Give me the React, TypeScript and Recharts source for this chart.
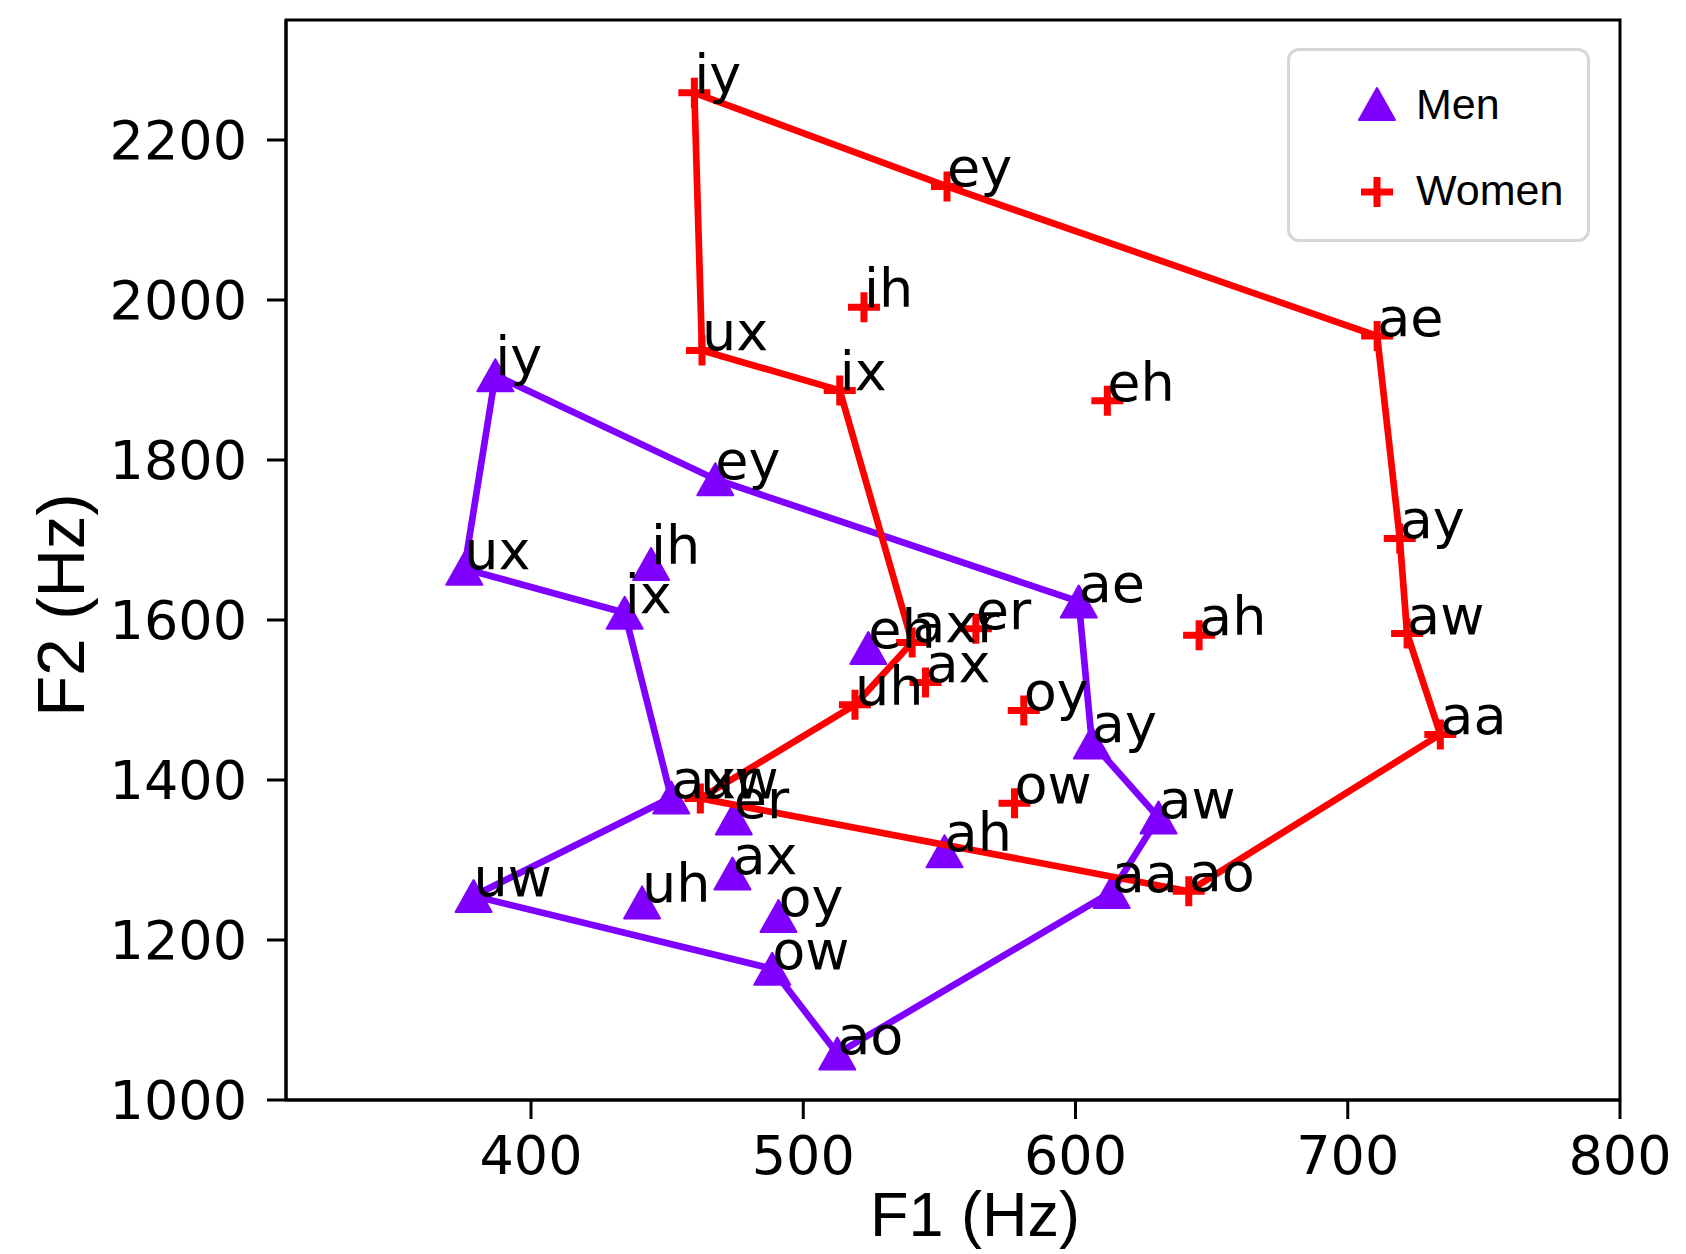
import React from 'react';
import { ScatterChart, Scatter, XAxis, YAxis, ReferenceArea, Legend, Label } from 'recharts';

const F1_TICKS = [400, 500, 600, 700, 800];
const F2_TICKS = [1000, 1200, 1400, 1600, 1800, 2000, 2200];
const F1_DOMAIN = [310, 800];
const F2_DOMAIN = [1000, 2350];

const menLabels = ['iy', 'ey', 'ae', 'ay', 'aw', 'aa', 'ao', 'ow', 'uw', 'axr', 'ix', 'ux', 'ih', 'eh', 'er', 'ax', 'uh', 'oy', 'ah'];
const menF1 = [386.9, 467.7, 601.2, 606.0, 630.5, 613.3, 512.5, 488.6, 378.9, 451.5, 434.4, 375.5, 444.1, 523.9, 474.5, 474.0, 440.8, 490.9, 551.9];
const menF2 = [1906, 1776, 1623, 1447, 1353, 1260, 1058, 1164, 1255, 1378, 1609, 1664, 1670, 1565, 1352, 1283, 1247, 1230, 1311];

const womenLabels = ['iy', 'ey', 'ae', 'ay', 'aw', 'aa', 'ao', 'uw', 'uh', 'axr', 'ix', 'ux', 'ih', 'eh', 'ah', 'er', 'ax', 'oy', 'ow'];
const womenF1 = [460.0, 552.8, 710.8, 719.1, 721.8, 734.0, 641.6, 462.2, 519.0, 540.0, 513.4, 462.8, 522.3, 611.7, 645.4, 563.4, 544.9, 581.0, 577.6];
const womenF2 = [2259, 2142, 1955, 1702, 1583, 1457, 1261, 1377, 1494, 1572, 1887, 1937, 1991, 1874, 1581, 1589, 1522, 1487, 1371];

const menLoopOrder = ['iy', 'ey', 'ae', 'ay', 'aw', 'aa', 'ao', 'ow', 'uw', 'axr', 'ix', 'ux', 'iy'];
const womenLoopOrder = ['iy', 'ey', 'ae', 'ay', 'aw', 'aa', 'ao', 'uw', 'uh', 'axr', 'ix', 'ux', 'iy'];

const legendNames = ['Men', 'Women'];

const MEN_COLOR = '#7f00ff';
const WOMEN_COLOR = '#ff0000';

type Pt = { label: string; x: number; y: number };

const build = (labels: string[], f1: number[], f2: number[]): Pt[] =>
  labels.map((l, i) => ({ label: l, x: f1[i], y: f2[i] }));

const menPoints = build(menLabels, menF1, menF2);
const womenPoints = build(womenLabels, womenF1, womenF2);
const loop = (pts: Pt[], order: string[]) => order.map((l) => pts.find((p) => p.label === l) as Pt);
const menLoop = loop(menPoints, menLoopOrder);
const womenLoop = loop(womenPoints, womenLoopOrder);
const allPoints = [...menPoints, ...womenPoints];

const Empty = () => <g />;

const Triangle = (props: any) => {
  const { cx, cy } = props;
  if (cx == null || cy == null) return <g />;
  return (
    <path
      d={`M${cx},${cy - 16}L${cx + 18},${cy + 16}L${cx - 18},${cy + 16}Z`}
      fill={MEN_COLOR}
      stroke={MEN_COLOR}
      strokeWidth={2}
      strokeLinejoin="round"
    />
  );
};

const Plus = (props: any) => {
  const { cx, cy } = props;
  if (cx == null || cy == null) return <g />;
  return (
    <path
      d={`M${cx - 16},${cy}L${cx + 16},${cy}M${cx},${cy - 15}L${cx},${cy + 15}`}
      stroke={WOMEN_COLOR}
      strokeWidth={7}
      fill="none"
    />
  );
};

const PointLabel = (props: any) => {
  const { cx, cy, payload } = props;
  if (cx == null || cy == null) return <g />;
  return (
    <text x={cx} y={cy} fontFamily="DejaVu Sans" fontSize={54} fill="#000">
      {payload.label}
    </text>
  );
};

const LegendBox = () => (
  <div
    style={{
      boxSizing: 'border-box',
      width: 303,
      height: 194,
      border: '3px solid #d6d6d6',
      borderRadius: 12,
      background: '#fff',
      position: 'relative',
      fontFamily: '"Liberation Sans", Arial, sans-serif',
      fontSize: 43,
      color: '#000',
    }}
  >
    {legendNames.map((name, i) => (
      <div
        key={name}
        style={{ position: 'absolute', left: 0, top: i === 0 ? 26 : 112, height: 54, display: 'flex', alignItems: 'center' }}
      >
        <svg width={120} height={54} style={{ display: 'block' }}>
          {i === 0 ? (
            <path d="M87,11L105,43L69,43Z" fill={MEN_COLOR} stroke={MEN_COLOR} strokeWidth={2} strokeLinejoin="round" />
          ) : (
            <path d="M71,29L103,29M87,14L87,44" stroke={WOMEN_COLOR} strokeWidth={7} fill="none" />
          )}
        </svg>
        <span style={{ marginLeft: 6, lineHeight: '54px' }}>{name}</span>
      </div>
    ))}
  </div>
);

const XLabel = (props: any) => {
  const vb = props.viewBox || {};
  return (
    <text
      x={vb.x + vb.width / 2 + 22}
      y={1236}
      textAnchor="middle"
      fontFamily='"Liberation Sans", Arial, sans-serif'
      fontSize={63}
      fill="#000"
    >
      F1 (Hz)
    </text>
  );
};

const YLabel = () => {
  const cx = 60;
  const cy = 605;
  return (
    <text
      x={cx}
      y={cy}
      transform={`rotate(-90 ${cx} ${cy})`}
      textAnchor="middle"
      dominantBaseline="central"
      fontFamily='"Liberation Sans", Arial, sans-serif'
      fontSize={67}
      fill="#000"
    >
      F2 (Hz)
    </text>
  );
};

const tickStyle = { fontSize: 54, fontFamily: 'DejaVu Sans', fill: '#000' };

export default function App() {
  return (
    <div style={{ position: 'absolute', left: 0, top: 0, width: 1686, height: 1254, background: '#fff' }}>
      <ScatterChart width={1686} height={1254} margin={{ top: 20, right: 66, bottom: 0, left: 0 }}>
        <XAxis
          type="number"
          dataKey="x"
          domain={F1_DOMAIN}
          ticks={F1_TICKS}
          allowDataOverflow
          height={154}
          tick={tickStyle}
          tickSize={19}
          tickMargin={17}
          axisLine={{ stroke: '#000', strokeWidth: 3 }}
          tickLine={{ stroke: '#000', strokeWidth: 3 }}
        >
          <Label content={<XLabel />} />
        </XAxis>
        <YAxis
          type="number"
          dataKey="y"
          domain={F2_DOMAIN}
          ticks={F2_TICKS}
          allowDataOverflow
          width={286}
          tick={tickStyle}
          tickSize={19}
          tickMargin={20}
          axisLine={{ stroke: '#000', strokeWidth: 3 }}
          tickLine={{ stroke: '#000', strokeWidth: 3 }}
        >
          <Label content={<YLabel />} />
        </YAxis>
        <ReferenceArea
          x1={F1_DOMAIN[0]}
          x2={F1_DOMAIN[1]}
          y1={F2_DOMAIN[0]}
          y2={F2_DOMAIN[1]}
          fill="none"
          fillOpacity={0}
          stroke="#000"
          strokeWidth={3}
          ifOverflow="visible"
        />
        <Scatter
          name="men-line"
          data={menLoop}
          line={{ stroke: MEN_COLOR, strokeWidth: 6.7 }}
          shape={Empty}
          legendType="none"
          isAnimationActive={false}
        />
        <Scatter name="Men" data={menPoints} shape={Triangle} isAnimationActive={false} />
        <Scatter
          name="women-line"
          data={womenLoop}
          line={{ stroke: WOMEN_COLOR, strokeWidth: 6.7 }}
          shape={Empty}
          legendType="none"
          isAnimationActive={false}
        />
        <Scatter name="Women" data={womenPoints} shape={Plus} isAnimationActive={false} />
        <Scatter name="labels" data={allPoints} shape={PointLabel} legendType="none" isAnimationActive={false} />
        <Legend
          layout="vertical"
          align="center"
          verticalAlign="middle"
          wrapperStyle={{ position: 'absolute', left: 1287, top: 48, width: 303, height: 194 }}
          content={<LegendBox />}
        />
      </ScatterChart>
    </div>
  );
}
